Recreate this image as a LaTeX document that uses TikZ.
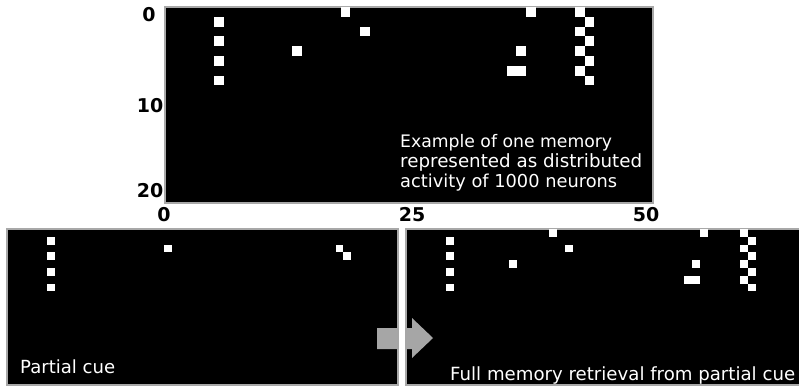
\documentclass[tikz,border=0pt]{standalone}
\usepackage{fontspec}
\setmainfont{DejaVu Sans}
\definecolor{rim}{HTML}{A8A8A8}
\definecolor{arrowgray}{HTML}{A6A6A6}
\newcommand{\fitto}[2]{\resizebox{#1pt}{!}{#2}}
\begin{document}
\begin{tikzpicture}[x=1pt,y=-1pt,
  panel/.style={fill=black,draw=rim,line width=1.5pt},
  cell/.style={fill=white},
  note/.style={text=white,font=\fontsize{16}{20}\selectfont,anchor=base west,inner sep=0pt},
  tick/.style={font=\bfseries\fontsize{19}{20}\selectfont,inner sep=0pt}]
\useasboundingbox (0,0) rectangle (799,388);
\clip (0,0) rectangle (799,388);
\fill[white] (0,0) rectangle (799,388);
% top panel
\draw[panel] (165,7) rectangle (653,203);
\foreach \c/\r in {5/1,5/3,5/5,5/7,13/4,18/0,20/2,37/0,36/4,35/6,36/6,42/0,43/1,42/2,43/3,42/4,43/5,42/6,43/7}
  \fill[cell] ({165+\c*9.76},{7+\r*9.8}) rectangle ++(9.76,9.8);
\node[note] (t1) at (400,147) {\fitto{212}{Example of one memory}};
\node[note] (t2) at (400,167) {\fitto{242}{represented as distributed}};
\node[note] (t3) at (400,187) {\fitto{217}{activity of 1000 neurons}};
% axis labels
\node[tick] (y0) at (149,15) {0};
\node[tick] (y10) at (150,106) {10};
\node[tick] (y20) at (150,191) {20};
\node[tick] (x0) at (164,215) {0};
\node[tick] (x25) at (412,215) {25};
\node[tick] (x50) at (646,215) {50};
% bottom left panel
\draw[panel] (7,229) rectangle (398,385);
\foreach \c/\r in {5/1,5/3,5/5,5/7,20/2,42/2,43/3}
  \fill[cell] ({8+\c*7.8},{229+\r*7.8}) rectangle ++(7.8,7.8);
\node[note] (pc) at (20,373) {\fitto{95}{Partial cue}};
% bottom right panel
\draw[panel] (406,229) rectangle (805,385);
\foreach \c/\r in {5/1,5/3,5/5,5/7,13/4,18/0,20/2,37/0,36/4,35/6,36/6,42/0,43/1,42/2,43/3,42/4,43/5,42/6,43/7}
  \fill[cell] ({406+\c*7.95},{229+\r*7.8}) rectangle ++(7.95,7.8);
\node[note] (fm) at (450,380) {\fitto{345}{Full memory retrieval from partial cue}};
% arrow
\fill[arrowgray] (377,328) -- (412,328) -- (412,318) -- (433,338) -- (412,358) -- (412,349) -- (377,349) -- cycle;
\fill[white] (399,226) rectangle (405,388);
\end{tikzpicture}
\end{document}
